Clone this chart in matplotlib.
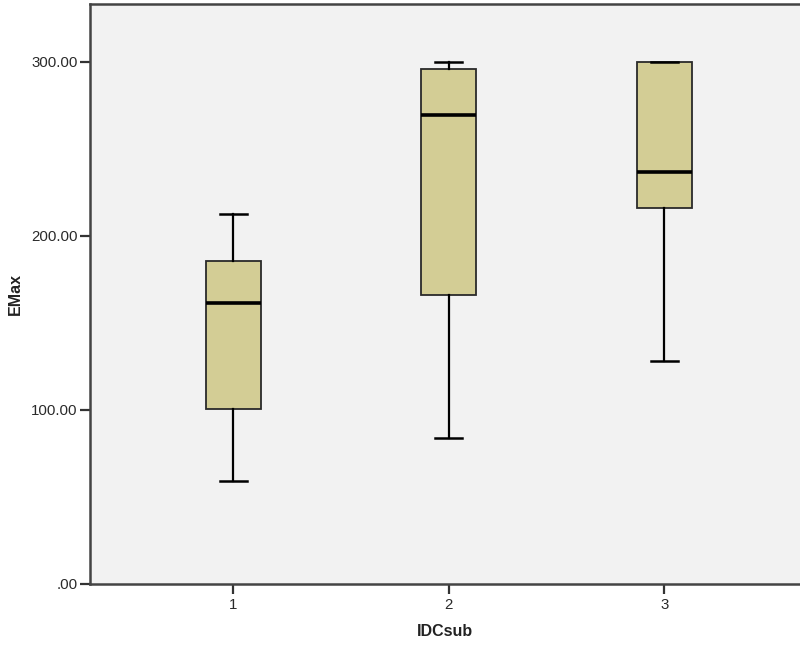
import matplotlib.pyplot as plt

groups = ['1', '2', '3']
whisker_low = [59, 84, 128]
q1 = [100.5, 166, 216]
median = [161.5, 269.5, 237]
q3 = [185.5, 296, 300]
whisker_high = [212.5, 300, 300]

plt.rcParams['font.family'] = ['Liberation Sans', 'DejaVu Sans']

fig = plt.figure(figsize=(8, 6.47), dpi=100)
ax = fig.add_axes([0.1125, 0.0974, 0.8875, 0.8964])
ax.set_facecolor('#f2f2f2')

stats = []
for i, g in enumerate(groups):
    stats.append({'label': g, 'whislo': whisker_low[i], 'q1': q1[i], 'med': median[i],
                  'q3': q3[i], 'whishi': whisker_high[i], 'fliers': []})

ax.bxp(stats, positions=[1, 2, 3], widths=0.255, patch_artist=True, showfliers=False,
       boxprops=dict(facecolor='#d3cd95', edgecolor='#2a2a2a', linewidth=1.3),
       medianprops=dict(color='black', linewidth=2.6),
       whiskerprops=dict(color='black', linewidth=1.6),
       capprops=dict(color='black', linewidth=1.8),
       capwidths=0.125)

ax.set_xlim(0.336, 3.63)
ax.set_ylim(0, 333.3)
ax.set_yticks([0, 100, 200, 300])
ax.set_yticklabels(['.00', '100.00', '200.00', '300.00'])
ax.set_xticks([1, 2, 3])
ax.set_xticklabels(groups)

for s in ['left', 'bottom', 'top']:
    ax.spines[s].set_color('#444444')
    ax.spines[s].set_linewidth(1.8)
ax.spines['right'].set_visible(False)
ax.tick_params(axis='both', direction='out', length=7, width=1.6, color='#333333',
               labelsize=10.8, labelcolor='#2a2a2a', pad=2)
ax.tick_params(axis='x', pad=3)

ax.set_xlabel('IDCsub', fontsize=11.5, fontweight='bold', color='#222222', labelpad=9)
ax.set_ylabel('EMax', fontsize=11.5, fontweight='bold', color='#222222', labelpad=6)

fig.savefig('out.png', dpi=100)
